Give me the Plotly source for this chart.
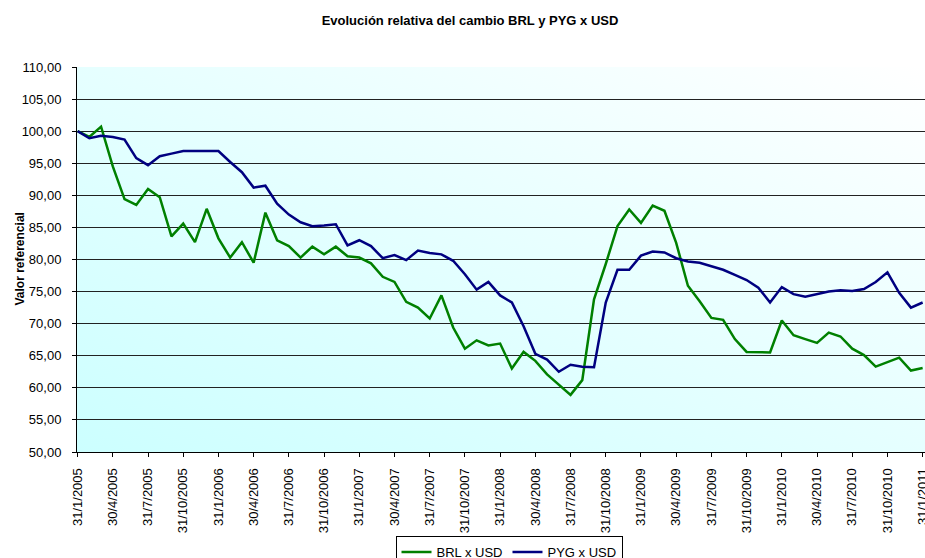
import base64
import plotly.graph_objects as go

# monthly values, 31/1/2005 .. 31/1/2011 (base 100)
brl = [100.0, 99.1, 100.7, 94.5, 89.4, 88.5, 91.0, 89.7, 83.6, 85.6, 82.7, 87.9,
       83.3, 80.3, 82.7, 79.5, 87.3, 83.0, 82.1, 80.3, 82.0, 80.8, 82.0, 80.5,
       80.3, 79.4, 77.3, 76.5, 73.4, 72.5, 70.8, 74.4, 69.4, 66.1, 67.4, 66.6,
       66.9, 63.0, 65.6, 64.2, 62.1, 60.5, 58.9, 61.2, 73.8, 79.3, 85.2, 87.8,
       85.7, 88.4, 87.6, 82.6, 75.9, 73.5, 70.9, 70.6, 67.6, 65.6, 65.6, 65.5,
       70.5, 68.2, 67.6, 67.0, 68.6, 68.0, 66.1, 65.1, 63.3, 64.0, 64.7, 62.7,
       63.1]
pyg = [100.0, 98.9, 99.3, 99.1, 98.7, 95.8, 94.7, 96.1, 96.5, 96.9, 96.9, 96.9,
       96.9, 95.2, 93.6, 91.2, 91.5, 88.7, 87.0, 85.8, 85.2, 85.3, 85.5, 82.2,
       83.0, 82.1, 80.2, 80.7, 79.9, 81.4, 81.0, 80.8, 79.8, 77.7, 75.3, 76.5,
       74.4, 73.3, 69.6, 65.3, 64.4, 62.5, 63.6, 63.3, 63.2, 73.3, 78.4, 78.4,
       80.6, 81.25, 81.1, 80.2, 79.7, 79.5, 79.0, 78.4, 77.6, 76.8, 75.6, 73.3,
       75.7, 74.6, 74.2, 74.6, 75.0, 75.2, 75.1, 75.4, 76.5, 78.0, 74.8, 72.5,
       73.3]
months = list(range(len(brl)))

tick_labels = ['31/1/2005', '30/4/2005', '31/7/2005', '31/10/2005',
               '31/1/2006', '30/4/2006', '31/7/2006', '31/10/2006',
               '31/1/2007', '30/4/2007', '31/7/2007', '31/10/2007',
               '31/1/2008', '30/4/2008', '31/7/2008', '31/10/2008',
               '31/1/2009', '30/4/2009', '31/7/2009', '31/10/2009',
               '31/1/2010', '30/4/2010', '31/7/2010', '31/10/2010',
               '31/1/2011']
tick_pos = months[::3]

font = 'Arial, Liberation Sans, sans-serif'
W, H = 925, 558

# diagonal cyan -> white backdrop for the plot area
svg = ('<svg xmlns="http://www.w3.org/2000/svg" width="100" height="100" '
       'viewBox="0 0 100 100" preserveAspectRatio="none">'
       '<defs><linearGradient id="g" x1="0" y1="1" x2="1" y2="0">'
       '<stop offset="0" stop-color="#CCFFFF"/>'
       '<stop offset="1" stop-color="#FFFFFF"/></linearGradient></defs>'
       '<rect width="100" height="100" fill="url(#g)"/></svg>')
bg_src = 'data:image/svg+xml;base64,' + base64.b64encode(svg.encode()).decode()

fig = go.Figure()
fig.add_trace(go.Scatter(x=months, y=brl, mode='lines', name='BRL x USD',
                         line=dict(color='#008000', width=2.5)))
fig.add_trace(go.Scatter(x=months, y=pyg, mode='lines', name='PYG x USD',
                         line=dict(color='#000080', width=2.5)))

fig.update_layout(
    width=W, height=H,
    margin=dict(l=77, r=0, t=67, b=106, autoexpand=False),
    paper_bgcolor='white',
    plot_bgcolor='rgba(0,0,0,0)',
    separators=',.',
    font=dict(family=font, size=13, color='black'),
    title=dict(text='<b>Evolución relativa del cambio BRL y PYG x USD</b>',
               x=470 / W, xref='container', xanchor='center',
               y=1 - 20 / H, yanchor='middle',
               font=dict(family=font, size=13, color='black')),
    showlegend=True,
    legend=dict(orientation='h', xref='container', yref='container',
                x=509 / W, xanchor='center', y=1 - 536 / H, yanchor='top',
                bordercolor='black', borderwidth=1, bgcolor='white',
                font=dict(family=font, size=13), itemwidth=30),
    images=[dict(source=bg_src, xref='x domain', yref='y domain', x=0, y=1,
                 sizex=1, sizey=1, sizing='stretch', layer='below')],
    annotations=[dict(text='<b>Valor referencial</b>', textangle=-90,
                      xref='paper', yref='paper', x=-(77 - 19) / 848, y=0.5,
                      xanchor='center', yanchor='middle', showarrow=False,
                      font=dict(family=font, size=12, color='black'))],
)

fig.update_xaxes(range=[-0.05, 72.2], tickvals=tick_pos, ticktext=tick_labels,
                 tickangle=-90, ticks='outside', ticklen=4, tickcolor='black',
                 showline=True, linecolor='black', linewidth=1, automargin=False,
                 showgrid=False, zeroline=False, ticklabelstandoff=6,
                 ticklabeloverflow='allow')
fig.update_yaxes(range=[50, 110], dtick=5, tick0=50, tickformat='.2f',
                 ticks='outside', ticklen=4, tickcolor='black', automargin=False,
                 showline=True, linecolor='black', linewidth=1,
                 showgrid=True, gridcolor='#222222', gridwidth=1,
                 zeroline=False, ticklabelstandoff=8)

# drop the default page margin so the figure sits flush in the window
fig.write_html('out.html', config={'displayModeBar': False},
               post_script="document.body.style.margin='0';")
